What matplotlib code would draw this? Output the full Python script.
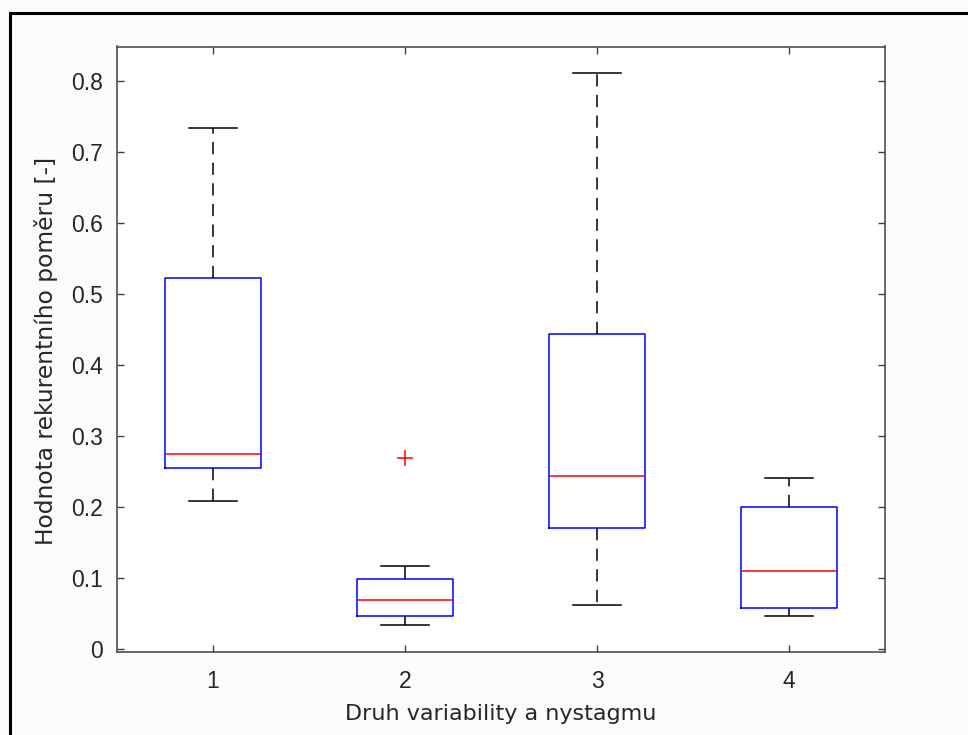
import matplotlib
matplotlib.use("Agg")
import matplotlib.pyplot as plt
from matplotlib.lines import Line2D

plt.rcParams['font.family'] = ['Liberation Sans', 'DejaVu Sans']

# box statistics (Druh variability a nystagmu 1..4)
groups = [1, 2, 3, 4]
whislo = [0.209, 0.034, 0.063, 0.047]
q1 = [0.255, 0.0465, 0.171, 0.0586]
med = [0.2755, 0.070, 0.244, 0.110]
q3 = [0.5225, 0.0995, 0.4437, 0.200]
whishi = [0.734, 0.118, 0.811, 0.241]
fliers = [[], [0.2694], [], []]

yticks = [0, 0.1, 0.2, 0.3, 0.4, 0.5, 0.6, 0.7, 0.8]
ytick_labels = ['0', '0.1', '0.2', '0.3', '0.4', '0.5', '0.6', '0.7', '0.8']

stats = []
for k in range(len(groups)):
    stats.append(dict(med=med[k], q1=q1[k], q3=q3[k], whislo=whislo[k],
                      whishi=whishi[k], fliers=fliers[k]))

fig = plt.figure(figsize=(9.68, 7.35), dpi=100)
fig.set_facecolor('#fbfbfb')
ax = fig.add_axes([117 / 968, 1 - 651.7 / 735, 768 / 968, 605.2 / 735])

ax.bxp(stats, positions=groups, widths=0.5, showfliers=True,
       boxprops=dict(color='#0000ff', linewidth=1.1),
       medianprops=dict(color='#ff0000', linewidth=1.1),
       whiskerprops=dict(color='black', linewidth=1.1, linestyle=(0, (8, 5.5))),
       capprops=dict(color='black', linewidth=1.1),
       capwidths=0.25,
       flierprops=dict(marker='+', markeredgecolor='#ff0000', markersize=11,
                       markeredgewidth=1.1, linestyle='none'))

ax.set_xlim(0.5, 4.5)
ax.set_ylim(-0.0034, 0.849)
ax.set_xticks(groups)
ax.set_xticklabels([str(g) for g in groups])
ax.set_yticks(yticks)
ax.set_yticklabels(ytick_labels)

ax.tick_params(direction='in', length=5, width=1.0, colors='#404040',
               labelcolor='#262626', labelsize=16.5, top=True, right=True)
ax.tick_params(axis='x', pad=13)
ax.tick_params(axis='y', pad=10)
for s in ax.spines.values():
    s.set_color('#404040')
    s.set_linewidth(1.1)

# the reference labels run wider than Helvetica, DejaVu gives a closer length
ax.set_xlabel('Druh variability a nystagmu', fontsize=16, color='#262626',
              family=['DejaVu Sans'])
ax.set_ylabel('Hodnota rekurentního poměru [-]', fontsize=16.8, color='#262626',
              family=['DejaVu Sans'])
ax.xaxis.set_label_coords(0.5, -0.086)
ax.yaxis.set_label_coords(-0.077, 0.497)

# black frame of the screenshot (left and top edges)
fig.add_artist(Line2D([9.5 / 968, 9.5 / 968], [0, 1 - 12.5 / 735], color='black',
                      linewidth=2.2, transform=fig.transFigure))
fig.add_artist(Line2D([9.5 / 968, 1], [1 - 12.5 / 735, 1 - 12.5 / 735], color='black',
                      linewidth=2.2, transform=fig.transFigure))

fig.savefig('out.png', dpi=100, facecolor=fig.get_facecolor())
